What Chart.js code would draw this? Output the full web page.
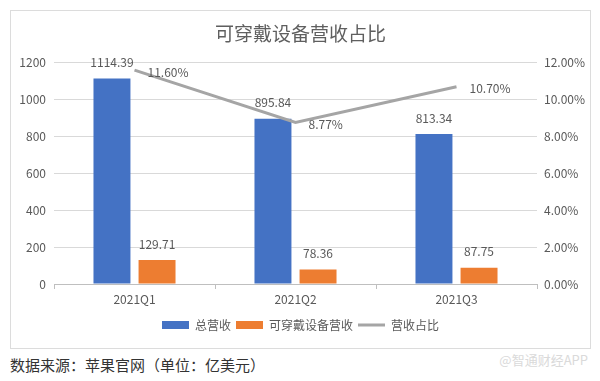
<!DOCTYPE html>
<html>
<head>
<meta charset="utf-8">
<script src="https://cdn.jsdelivr.net/npm/chart.js@4.4.1/dist/chart.umd.min.js"></script>
<style>
  html, body { margin: 0; padding: 0; background: #fff; }
  body { width: 600px; height: 381px; position: relative; overflow: hidden; font-family: "Noto Sans CJK SC", sans-serif; }
  .box { position: absolute; left: 10px; top: 10px; width: 579px; height: 337px; border: 1px solid #dcdcdc; }
  .box canvas { position: absolute; left: 0; top: 0; }
  .source { position: absolute; left: 10px; top: 354px; font-size: 15px; color: #333; line-height: 22px; }
  .mark { position: absolute; right: 12px; top: 350px; font-size: 13px; color: #dadada; line-height: 20px; }
</style>
</head>
<body>
<div class="box"><canvas id="chart" width="579" height="337"></canvas></div>
<div class="source">数据来源：苹果官网（单位：亿美元）</div>
<div class="mark">@智通财经APP</div>
<script>
const quarters = ['2021Q1', '2021Q2', '2021Q3'];
const totalRevenue = [1114.39, 895.84, 813.34];
const wearableRevenue = [129.71, 78.36, 87.75];
const wearableShare = [0.116, 0.0877, 0.107];
const leftTicks = [0, 200, 400, 600, 800, 1000, 1200];
const rightTicks = [0, 0.02, 0.04, 0.06, 0.08, 0.10, 0.12];

const textColor = '#595959';
const fontFamily = '"Noto Sans CJK SC", sans-serif';

// value labels drawn from the elements' own positions
const valueLabels = {
  id: 'valueLabels',
  afterDatasetsDraw(chart) {
    const ctx = chart.ctx;
    ctx.save();
    ctx.font = '12px ' + fontFamily;
    ctx.fillStyle = textColor;
    ctx.textBaseline = 'middle';
    chart.data.datasets.forEach((ds, i) => {
      const meta = chart.getDatasetMeta(i);
      meta.data.forEach((el, j) => {
        const v = ds.data[j];
        if (meta.type === 'bar') {
          ctx.textAlign = 'center';
          ctx.fillText(v.toFixed(2), el.x, el.y - 16);
        } else {
          ctx.textAlign = 'left';
          ctx.fillText((v * 100).toFixed(2) + '%', el.x + 13, el.y + 2);
        }
      });
    });
    ctx.restore();
  }
};

new Chart(document.getElementById('chart').getContext('2d'), {
  data: {
    labels: quarters,
    datasets: [
      {
        type: 'bar',
        label: '总营收',
        data: totalRevenue,
        backgroundColor: '#4472C4',
        borderWidth: 0,
        pointStyle: 'rect',
        yAxisID: 'y',
        order: 1,
        categoryPercentage: 0.56,
        barPercentage: 0.82
      },
      {
        type: 'bar',
        label: '可穿戴设备营收',
        data: wearableRevenue,
        backgroundColor: '#ED7D31',
        borderWidth: 0,
        pointStyle: 'rect',
        yAxisID: 'y',
        order: 1,
        categoryPercentage: 0.56,
        barPercentage: 0.82
      },
      {
        type: 'line',
        label: '营收占比',
        data: wearableShare,
        borderColor: '#A5A5A5',
        backgroundColor: '#A5A5A5',
        borderWidth: 3,
        pointRadius: 0,
        pointStyle: 'line',
        tension: 0,
        yAxisID: 'y1',
        order: 0
      }
    ]
  },
  options: {
    responsive: false,
    animation: false,
    layout: { padding: { top: 0, bottom: 7, left: 0, right: 0 } },
    plugins: {
      title: {
        display: true,
        text: '可穿戴设备营收占比',
        color: '#5f5f5f',
        font: { family: fontFamily, size: 19, weight: 'normal' },
        padding: { top: 11, bottom: 18 }
      },
      legend: {
        position: 'bottom',
        labels: {
          usePointStyle: true,
          pointStyleWidth: 27,
          boxHeight: 8,
          padding: 5,
          color: textColor,
          font: { family: fontFamily, size: 12 },
          sort: (a, b) => a.datasetIndex - b.datasetIndex
        }
      },
      tooltip: { enabled: false }
    },
    scales: {
      x: {
        grid: { offset: true, drawOnChartArea: false, drawTicks: true, tickLength: 5, color: '#bfbfbf' },
        border: { display: true, color: '#bfbfbf' },
        ticks: { color: textColor, padding: 3, font: { family: fontFamily, size: 12 } },
        afterFit: (scale) => { scale.height = 30; }
      },
      y: {
        position: 'left',
        min: 0,
        max: 1200,
        afterBuildTicks: (scale) => { scale.ticks = leftTicks.map(v => ({ value: v })); },
        grid: { color: '#d9d9d9', drawTicks: false },
        border: { display: false },
        ticks: {
          color: textColor,
          padding: 8,
          font: { family: fontFamily, size: 12 },
          callback: (v) => String(v)
        },
        afterFit: (scale) => { scale.width = 43; }
      },
      y1: {
        position: 'right',
        min: 0,
        max: 0.12,
        afterBuildTicks: (scale) => { scale.ticks = rightTicks.map(v => ({ value: v })); },
        grid: { display: false, drawTicks: false },
        border: { display: false },
        ticks: {
          color: textColor,
          padding: 7,
          font: { family: fontFamily, size: 12 },
          callback: (v) => (v * 100).toFixed(2) + '%'
        },
        afterFit: (scale) => { scale.width = 53; }
      }
    }
  },
  plugins: [valueLabels]
});
</script>
</body>
</html>
